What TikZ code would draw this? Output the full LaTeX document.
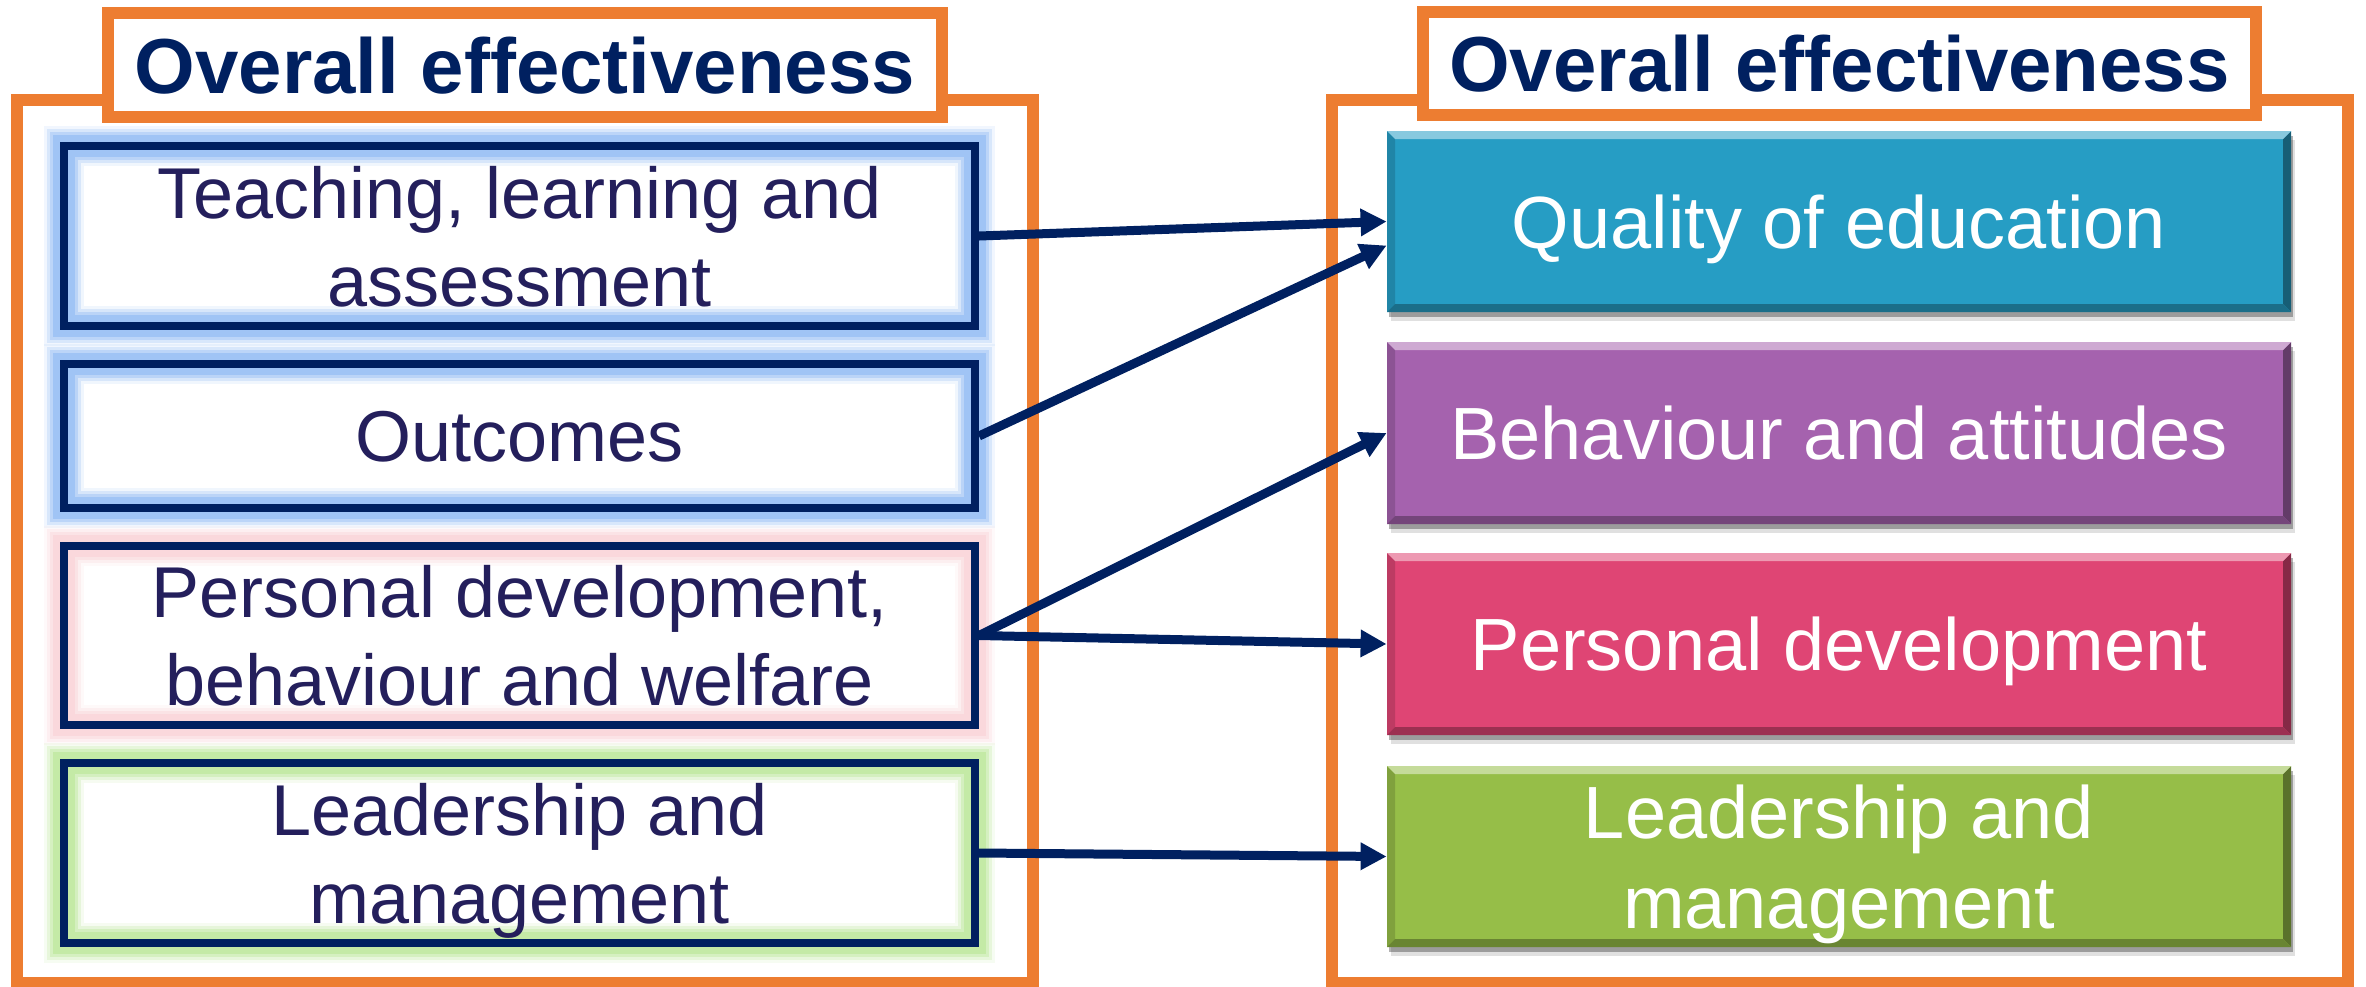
\documentclass[tikz,border=0pt]{standalone}
\usepackage{fontspec}
\setmainfont{Liberation Sans}
\usetikzlibrary{arrows.meta,shadows,calc}
\definecolor{orangeC}{RGB}{237,125,49}
\definecolor{navyC}{RGB}{0,32,96}
\definecolor{textC}{RGB}{36,31,92}
\definecolor{glowBlue}{RGB}{160,196,245}
\definecolor{glowPink}{RGB}{250,216,220}
\definecolor{glowGreen}{RGB}{196,234,166}
\definecolor{cQual}{RGB}{38,157,196}
\definecolor{cBehav}{RGB}{165,98,174}
\definecolor{cPers}{RGB}{223,69,116}
\definecolor{cLead}{RGB}{150,190,72}
\newcommand\lboxfont{\fontsize{36}{44}\selectfont}
\newcommand\rboxfont{\fontsize{37}{45}\selectfont}
\newcommand\ttlfont{\bfseries\fontsize{39}{46}\selectfont}
\tikzset{
  frame/.style={draw=orangeC, line width=6pt},
  titlebox/.style={draw=orangeC, line width=6pt, fill=white, inner sep=0pt,
    font=\ttlfont, text=navyC, text depth=0pt},
  lbox/.style={minimum width=455.5pt, inner sep=0pt, align=center, text=textC,
    font=\lboxfont, text depth=0pt,
    preaction={fill=white},
    preaction={draw=#1, line width=20pt, opacity=.15},
    preaction={draw=#1, line width=17pt, opacity=.3},
    preaction={draw=#1, line width=14pt, opacity=.5},
    preaction={draw=#1, line width=11pt},
    draw=navyC, line width=4pt},
  rbox/.style={fill=#1, minimum width=452pt, inner sep=0pt, align=center,
    text=white, font=\rboxfont, text depth=0pt,
    drop shadow={shadow xshift=1pt, shadow yshift=-2.5pt, opacity=.3, fill=black},
    drop shadow={shadow xshift=2pt, shadow yshift=-4.5pt, opacity=.12, fill=black},
    path picture={
      \fill[#1!85!black] (path picture bounding box.north west) -- (path picture bounding box.south west)
        -- ([shift={(4pt,4pt)}]path picture bounding box.south west) -- ([shift={(4pt,-4pt)}]path picture bounding box.north west) -- cycle;
      \fill[#1!60!black] (path picture bounding box.north east) -- (path picture bounding box.south east)
        -- ([shift={(-4pt,4pt)}]path picture bounding box.south east) -- ([shift={(-4pt,-4pt)}]path picture bounding box.north east) -- cycle;
      \fill[#1!70!black] (path picture bounding box.south west) -- (path picture bounding box.south east)
        -- ([shift={(-4pt,4pt)}]path picture bounding box.south east) -- ([shift={(4pt,4pt)}]path picture bounding box.south west) -- cycle;
      \fill[#1!55!white] (path picture bounding box.north west) -- (path picture bounding box.north east)
        -- ([shift={(-4pt,-4pt)}]path picture bounding box.north east) -- ([shift={(4pt,-4pt)}]path picture bounding box.north west) -- cycle;
    }},
  conn/.style={draw=navyC, line width=4.5pt, -{Triangle[length=13pt,width=13pt]}},
}
\begin{document}
\begin{tikzpicture}[x=0.5pt, y=-0.5pt]
\useasboundingbox (0,0) rectangle (2366,986);
% outer frames
\draw[frame] (17,100) rectangle (1033,983);
\draw[frame] (1332,100) rectangle (2348,983);
% titles
\node[titlebox, minimum width=417pt, minimum height=52pt] (tl) at (525,65) {Overall effectiveness};
\node[titlebox, minimum width=416.5pt, minimum height=51.5pt] (tr) at (1839.5,63.5) {Overall effectiveness};
% left boxes
\node[lbox=glowBlue, minimum height=90pt] (teach) at (519.5,236) {Teaching, learning and\\assessment};
\node[lbox=glowBlue, minimum height=72pt] (outc) at (519.5,436) {Outcomes};
\node[lbox=glowPink, minimum height=89.5pt] (pdl) at (519.5,635.5) {Personal development,\\behaviour and welfare};
\node[lbox=glowGreen, minimum height=90pt] (leadl) at (519.5,853) {Leadership and\\management};
% right boxes
\node[rbox=cQual, minimum height=90.5pt] (qual) at (1839,221.5) {Quality of education};
\node[rbox=cBehav, minimum height=91pt] (behav) at (1839,433) {Behaviour and attitudes};
\node[rbox=cPers, minimum height=91pt] (pdr) at (1839,644) {Personal development};
\node[rbox=cLead, minimum height=90.5pt] (leadr) at (1839,856.5) {Leadership and\\management};
% connectors
\draw[conn] (teach.east) -- (qual.west);
\draw[conn] (outc.east) -- ($(qual.west)+(0,24)$);
\draw[conn] (pdl.east) -- (behav.west);
\draw[conn] (pdl.east) -- (pdr.west);
\draw[conn] (leadl.east) -- (leadr.west);
\end{tikzpicture}
\end{document}
